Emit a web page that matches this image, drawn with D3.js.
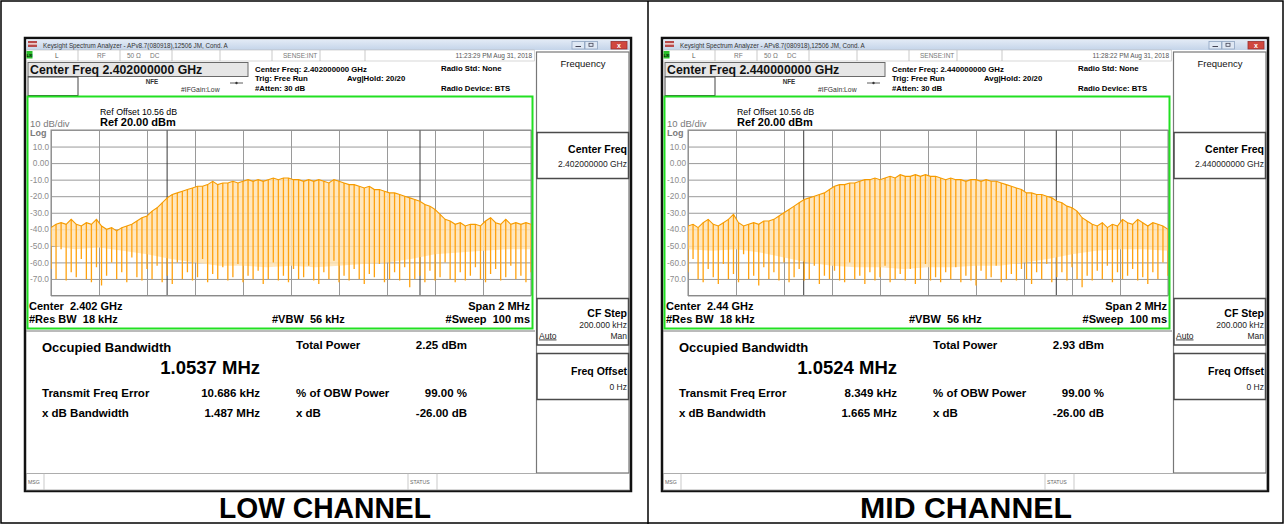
<!DOCTYPE html>
<html><head><meta charset="utf-8">
<script src="https://cdn.jsdelivr.net/npm/d3@7"></script>
<style>
body{margin:0;background:#fff}
svg{display:block}
text{font-family:"Liberation Sans",Arial,sans-serif;white-space:pre}
</style>
</head><body>
<svg id="c" width="1285" height="525"></svg>
<script>
// ---------------- data ----------------
const channelLabels = ["LOW CHANNEL", "MID CHANNEL"];
const centerFreqText = ["2.402000000", "2.440000000"];
const centerShort = ["2.402 GHz", "2.44 GHz"];
const timestamps = ["11:23:29 PM Aug 31, 2018", "11:28:22 PM Aug 31, 2018"];
const obwMHz = [1.0537, 1.0524];
const obwText = ["1.0537 MHz", "1.0524 MHz"];
const totalPower = ["2.25 dBm", "2.93 dBm"];
const freqErrorKHz = [10.686, 8.349];
const freqErrorText = ["10.686 kHz", "8.349 kHz"];
const xdbBandwidth = ["1.487 MHz", "1.665 MHz"];
const yTicks = [10, 0, -10, -20, -30, -40, -50, -60, -70];
const yTickLabels = ["10.0", "0.00", "-10.0", "-20.0", "-30.0", "-40.0", "-50.0", "-60.0", "-70.0"];
const xGridMHz = [-1, -0.8, -0.6, -0.4, -0.2, 0, 0.2, 0.4, 0.6, 0.8, 1];

// trace peaks (dBm), 96 sweep points across the 2 MHz span
const lowTop = [
 -39,-37,-36,-37,-34,-37,-38,-36,-37,-34,-38,-40,
 -39,-41,-39,-38,-37,-35,-33,-32,-29,-27,-24,-21,
 -19,-18,-17,-16,-15,-14,-14,-13,-11,-13,-12,-12,
 -11,-12,-11,-10,-11,-10,-11,-10,-9,-10,-9,-9,
 -10,-10,-11,-10,-11,-10,-11,-12,-10,-11,-12,-13,
 -13,-14,-15,-14,-16,-16,-17,-18,-18,-19,-20,-21,
 -22,-23,-25,-26,-28,-31,-34,-35,-37,-36,-38,-37,
 -37,-38,-35,-33,-36,-37,-34,-37,-36,-37,-36,-37];
const lowDip = [
 -64,-70,-52,-71,-66,-69,-58,-70,-72,-63,-74,-68,
 -60,-70,-66,-72,-57,-69,-71,-64,-70,-62,-72,-68,
 -73,-60,-70,-66,-71,-69,-58,-72,-67,-70,-63,-71,
 -69,-61,-72,-68,-70,-65,-73,-70,-60,-71,-68,-72,
 -64,-70,-69,-62,-71,-73,-66,-70,-59,-72,-68,-71,
 -64,-70,-73,-67,-69,-61,-72,-70,-66,-71,-63,-75,
 -70,-68,-72,-65,-71,-69,-60,-70,-72,-66,-71,-68,
 -63,-70,-72,-67,-64,-71,-69,-62,-70,-68,-72,-66];
const lowFloor = [-50,-52,-51,-53,-55,-58,-60,-62,-62,-63,-62,-63,-62,-61,-60,-58,-55,-54,-53,-52,-52];

const midTop = [
 -38,-37,-39,-36,-34,-37,-38,-36,-34,-31,-36,-38,
 -37,-36,-37,-35,-35,-34,-32,-30,-28,-26,-24,-22,
 -21,-20,-19,-18,-16,-14,-13,-13,-12,-12,-11,-10,
 -10,-9,-10,-9,-8,-9,-7,-8,-8,-7,-8,-7,
 -8,-8,-9,-10,-9,-10,-10,-11,-10,-10,-11,-10,
 -11,-11,-12,-13,-14,-15,-16,-18,-18,-19,-19,-20,
 -21,-23,-24,-26,-27,-29,-33,-35,-37,-38,-36,-39,
 -37,-38,-34,-36,-37,-34,-36,-38,-36,-37,-38,-40];
const midDip = [
 -66,-58,-70,-72,-64,-69,-73,-61,-70,-67,-72,-55,
 -70,-68,-74,-63,-70,-66,-71,-60,-72,-69,-64,-71,
 -70,-62,-73,-68,-70,-65,-71,-72,-60,-70,-68,-73,
 -66,-71,-69,-62,-72,-70,-67,-71,-64,-73,-70,-61,
 -71,-69,-72,-66,-70,-63,-72,-68,-71,-74,-65,-70,
 -69,-62,-72,-70,-67,-71,-64,-70,-73,-66,-70,-61,
 -72,-69,-66,-71,-63,-70,-75,-68,-71,-65,-70,-62,
 -72,-66,-70,-68,-64,-71,-69,-73,-66,-70,-60,-68];
const midFloor = [-52,-53,-52,-54,-57,-60,-62,-63,-63,-64,-63,-63,-62,-62,-60,-58,-55,-53,-52,-52,-53];

const traces = [
  {top: lowTop, dip: lowDip, floor: lowFloor},
  {top: midTop, dip: midDip, floor: midFloor}
];

// ---------------- drawing ----------------
const svg = d3.select("#c");
const defs = svg.append("defs");
const tb = defs.append("linearGradient").attr("id", "tb").attr("x1", 0).attr("y1", 0).attr("x2", 0).attr("y2", 1);
tb.append("stop").attr("offset", "0").attr("stop-color", "#e3ebf6");
tb.append("stop").attr("offset", "1").attr("stop-color", "#c4d4e9");

// outer table
svg.append("rect").attr("x", 1).attr("y", 1).attr("width", 1282).attr("height", 522)
  .attr("fill", "none").attr("stroke", "#000").attr("stroke-width", 1.5);
svg.append("line").attr("x1", 648).attr("x2", 648).attr("y1", 1).attr("y2", 524)
  .attr("stroke", "#000").attr("stroke-width", 1.5);

function panel(k, ox) {
  const g = svg.append("g").attr("transform", `translate(${ox},0)`);
  const T = (x, y, s, o = {}) => g.append("text").attr("x", x).attr("y", y).text(s)
      .attr("font-size", o.size || 8).attr("font-weight", o.bold ? "bold" : "normal")
      .attr("fill", o.fill || "#000").attr("text-anchor", o.anchor || "start");
  const L = (x1, y1, x2, y2, c = "#999", w = 1) => g.append("line").attr("x1", x1).attr("y1", y1)
      .attr("x2", x2).attr("y2", y2).attr("stroke", c).attr("stroke-width", w);
  const R = (x, y, w, h, fill, stroke, sw = 1) => g.append("rect").attr("x", x).attr("y", y)
      .attr("width", w).attr("height", h).attr("fill", fill).attr("stroke", stroke || "none").attr("stroke-width", sw);

  // window
  R(25, 38, 606, 453, "#fff", "#111", 2.5);
  R(26.5, 39.5, 603, 10.5, "url(#tb)");
  // app icon
  R(28, 41, 9, 6, "#b84a4a");
  R(28, 43.3, 9, 1.2, "#fff");
  T(43, 47.5, "Keysight Spectrum Analyzer - APv8.7(080918),12506 JM, Cond. A", {size: 6.3, fill: "#333"});
  // window buttons
  R(572, 41.5, 12.5, 7.5, "#dfe8f4", "#8ea3c0", 0.8);
  R(585, 41.5, 12.5, 7.5, "#dfe8f4", "#8ea3c0", 0.8);
  R(611, 41.5, 16, 7.5, "#d0473f", "#9a3030", 0.8);
  L(575.5, 46.5, 581, 46.5, "#445", 1);
  R(589, 43.3, 4, 3, "none", "#445", 0.8);
  T(619, 48, "x", {size: 7, fill: "#fff", anchor: "middle", bold: true});

  // status row
  R(26.5, 50, 508, 11, "#fff", "#bbb", 0.6);
  R(26.5, 51, 6, 7.5, "#2bbf2b");
  T(29.5, 57.3, "LXI", {size: 3.6, anchor: "middle", fill: "#000", bold: true});
  [78, 120, 172, 220, 272, 320, 365].forEach(x => L(x, 50, x, 61, "#bbb", 0.8));
  T(55, 58.3, "L", {size: 6.5, fill: "#555"});
  T(97, 58.3, "RF", {size: 6.5, fill: "#777"});
  T(127, 58.3, "50 \u03a9", {size: 6.5, fill: "#777"});
  T(150, 58.3, "DC", {size: 6.5, fill: "#777"});
  T(283, 58.3, "SENSE:INT", {size: 6.5, fill: "#777"});
  T(532, 58.3, timestamps[k], {size: 6.5, fill: "#555", anchor: "end"});

  // header
  R(28, 62.5, 220, 14, "#e6e6e6", "#6a6a6a", 1);
  T(30, 74, "Center Freq " + centerFreqText[k] + " GHz", {size: 12.3, bold: true, fill: "#111"});
  R(28, 77, 50, 18.5, "#fff", "#444", 1);
  T(152, 84, "NFE", {size: 6.3, bold: true, fill: "#333", anchor: "middle"});
  T(181, 92, "#IFGain:Low", {size: 6.8, fill: "#333"});
  L(230, 83, 243, 83, "#333", 0.8);
  g.append("circle").attr("cx", 236.5).attr("cy", 83).attr("r", 1.2).attr("fill", "#333");
  T(255, 72, "Center Freq: " + centerFreqText[k] + " GHz", {size: 7.8, bold: true});
  T(255, 81, "Trig: Free Run", {size: 7.8, bold: true});
  T(255, 90.5, "#Atten: 30 dB", {size: 7.8, bold: true});
  T(347, 81, "Avg|Hold: 20/20", {size: 7.8, bold: true});
  T(441, 71, "Radio Std: None", {size: 7.8, bold: true});
  T(441, 90.5, "Radio Device: BTS", {size: 7.8, bold: true});

  // plot area
  const x = d3.scaleLinear().domain([-1, 1]).range([51, 531]);
  const y = d3.scaleLinear().domain([-80, 20]).range([295.5, 130]);

  T(100, 115, "Ref Offset 10.56 dB", {size: 8.8});
  T(100, 126, "Ref 20.00 dBm", {size: 11, bold: true});
  T(30, 126.5, "10 dB/div", {size: 9.5, fill: "#7a7a7a"});
  T(30, 136, "Log", {size: 9, bold: true, fill: "#7a7a7a"});

  // gridlines via axes
  const gy = g.append("g").attr("transform", "translate(51,0)")
    .call(d3.axisLeft(y).tickValues(d3.range(-80, 21, 10)).tickSize(-480).tickFormat(""));
  gy.select(".domain").remove();
  gy.selectAll("line").attr("stroke", "#9a9a9a").attr("stroke-width", 1);
  const gx = g.append("g").attr("transform", "translate(0,295.5)")
    .call(d3.axisBottom(x).tickValues(xGridMHz).tickSize(-165.5).tickFormat(""));
  gx.select(".domain").remove();
  gx.selectAll("line").attr("stroke", "#9a9a9a").attr("stroke-width", 1);

  const ya = g.append("g").attr("transform", "translate(49,0)")
    .call(d3.axisLeft(y).tickValues(yTicks).tickSize(0).tickPadding(0)
      .tickFormat((d, i) => yTickLabels[i]));
  ya.select(".domain").remove();
  ya.selectAll("text").attr("font-size", 8.3).attr("fill", "#8c8c8c")
    .attr("font-family", "Liberation Sans, Arial, sans-serif");

  // trace
  const tr = traces[k];
  const n = tr.top.length;
  const fx = i => x(-1 + 2 * i / (n - 1));
  const nf = tr.floor.length;
  const ffx = i => x(-1 + 2 * i / (nf - 1));
  const clipId = "clip" + k;
  defs.append("clipPath").attr("id", clipId).append("rect")
    .attr("x", 51 + ox).attr("y", 130).attr("width", 480).attr("height", 165.5);
  const tg = svg.append("g").attr("clip-path", `url(#${clipId})`)
    .append("g").attr("transform", `translate(${ox},0)`);

  const poly = tr.top.map((v, i) => [fx(i), y(v)])
    .concat(tr.floor.map((v, i) => [ffx(i), y(v)]).reverse());
  tg.append("path").attr("d", d3.line()(poly) + "Z")
    .attr("fill", "#ffe3b3").attr("opacity", 0.85);

  tg.selectAll("line.sp").data(tr.top).join("line").attr("class", "sp")
    .attr("x1", (d, i) => fx(i)).attr("x2", (d, i) => fx(i))
    .attr("y1", d => y(d)).attr("y2", (d, i) => y(tr.dip[i]))
    .attr("stroke", "#ffa20f").attr("stroke-width", 1.3);
  tg.append("path").attr("d", d3.line().x((d, i) => fx(i)).y(d => y(d))(tr.top))
    .attr("fill", "none").attr("stroke", "#f59b00").attr("stroke-width", 1.1);

  // OBW marker lines
  const fc = freqErrorKHz[k] / 1000;
  [fc - obwMHz[k] / 2, fc + obwMHz[k] / 2].forEach(f =>
    L(x(f), 130, x(f), 295.5, "#3a3a3a", 1));

  // plot frame
  g.append("rect").attr("x", 51).attr("y", 130).attr("width", 480).attr("height", 165.5)
    .attr("fill", "none").attr("stroke", "#8a8a8a").attr("stroke-width", 1);

  // bottom annotations
  T(29, 309.5, "Center  " + centerShort[k], {size: 11, bold: true});
  T(29, 322.5, "#Res BW  18 kHz", {size: 11, bold: true});
  T(272, 322.5, "#VBW  56 kHz", {size: 11, bold: true});
  T(530, 309.5, "Span 2 MHz", {size: 11, bold: true, anchor: "end"});
  T(530, 322.5, "#Sweep  100 ms", {size: 11, bold: true, anchor: "end"});

  // green graticule frame
  g.append("rect").attr("x", 27.5).attr("y", 96.5).attr("width", 505).attr("height", 232)
    .attr("fill", "none").attr("stroke", "#22e022").attr("stroke-width", 2);

  // measurement area
  L(26, 331, 535, 331, "#777", 1);
  T(42, 352, "Occupied Bandwidth", {size: 13, bold: true});
  T(260, 374, obwText[k], {size: 18.5, bold: true, anchor: "end"});
  T(296, 349, "Total Power", {size: 11.5, bold: true});
  T(467, 349, totalPower[k], {size: 11.5, bold: true, anchor: "end"});
  T(42, 396.5, "Transmit Freq Error", {size: 11.5, bold: true});
  T(260, 396.5, freqErrorText[k], {size: 11.5, bold: true, anchor: "end"});
  T(296, 396.5, "% of OBW Power", {size: 11.5, bold: true});
  T(467, 396.5, "99.00 %", {size: 11.5, bold: true, anchor: "end"});
  T(42, 416.5, "x dB Bandwidth", {size: 11.5, bold: true});
  T(260, 416.5, xdbBandwidth[k], {size: 11.5, bold: true, anchor: "end"});
  T(296, 416.5, "x dB", {size: 11.5, bold: true});
  T(467, 416.5, "-26.00 dB", {size: 11.5, bold: true, anchor: "end"});

  // softkey panel
  R(536.5, 52, 92.5, 421, "#fff", "#777", 1.2);
  T(583, 67, "Frequency", {size: 9.5, fill: "#111", anchor: "middle"});
  R(537, 132.5, 91.5, 46, "#fff", "#4a4a4a", 1.5);
  T(627, 153, "Center Freq", {size: 10.5, bold: true, anchor: "end"});
  T(627, 166.5, centerFreqText[k] + " GHz", {size: 8.5, anchor: "end", fill: "#222"});
  R(537, 298.5, 91.5, 46.5, "#fff", "#4a4a4a", 1.5);
  T(627, 317, "CF Step", {size: 10.5, bold: true, anchor: "end"});
  T(627, 327.5, "200.000 kHz", {size: 8.5, anchor: "end", fill: "#222"});
  T(539, 338.5, "Auto", {size: 8.5, fill: "#222"}).attr("text-decoration", "underline");
  T(627, 338.5, "Man", {size: 8.5, anchor: "end", fill: "#222"});
  R(537, 353.5, 91.5, 46, "#fff", "#4a4a4a", 1.5);
  T(627, 375, "Freq Offset", {size: 10.5, bold: true, anchor: "end"});
  T(627, 390, "0 Hz", {size: 8.5, anchor: "end", fill: "#222"});

  // message bar
  R(26.5, 473.5, 603, 16.5, "#fff", "#999", 0.8);
  L(44, 473.5, 44, 490, "#bbb", 0.8);
  L(408, 473.5, 408, 490, "#bbb", 0.8);
  L(437, 473.5, 437, 490, "#bbb", 0.8);
  T(28, 484, "MSG", {size: 5.2, fill: "#666"});
  T(410, 484, "STATUS", {size: 5.2, fill: "#666"});

  // channel label
  const cx = k === 0 ? 325 : 966;
  svg.append("text").attr("x", cx).attr("y", 518).attr("text-anchor", "middle")
    .attr("font-size", 29).attr("font-weight", "bold")
    .attr("textLength", 212).attr("lengthAdjust", "spacingAndGlyphs")
    .text(channelLabels[k]);
}

panel(0, 0);
panel(1, 637);
</script>
</body></html>
